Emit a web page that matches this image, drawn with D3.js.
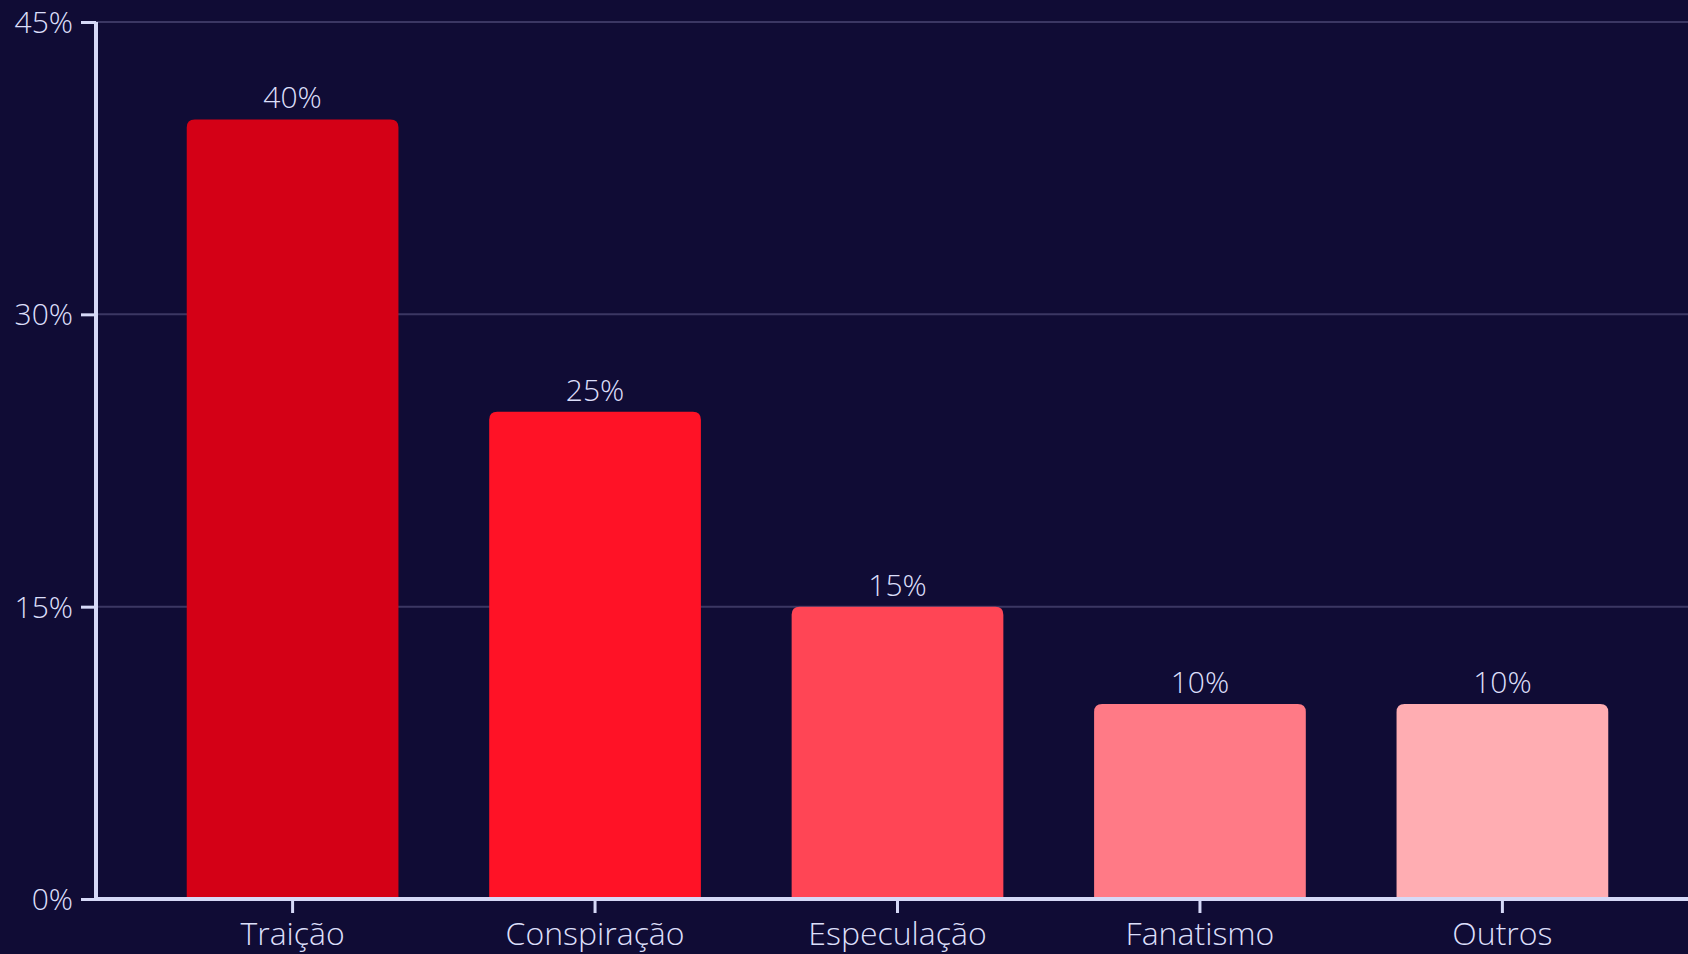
<!DOCTYPE html>
<html lang="pt">
<head>
<meta charset="UTF-8">
<title>Motivos</title>
<style>
    html, body { margin: 0; padding: 0; background: #100c35; overflow: hidden; }
    #chart text { font-family: "Open Sans", "Noto Sans", sans-serif; font-weight: 300; fill: #dcdffa; }
</style>
</head>
<body>
<svg id="chart"></svg>
<script src="https://d3js.org/d3.v7.min.js"></script>
<script>
    const categories = ["Traição", "Conspiração", "Especulação", "Fanatismo", "Outros"];
    const values = [40, 25, 15, 10, 10];
    const colors = ["#d40016", "#ff1226", "#ff4555", "#ff7a86", "#ffadb2"];
    const yTicks = [0, 15, 30, 45];

    const width = 1688;
    const height = 954;
    const plotLeft = 96, plotTop = 22, plotBottom = 899, plotRight = 1699;

    const svg = d3.select("#chart")
        .attr("width", width)
        .attr("height", height);

    const x = d3.scaleBand()
        .domain(categories)
        .range([plotLeft, plotRight])
        .paddingInner(0.3)
        .paddingOuter(0.3);

    const y = d3.scaleLinear()
        .domain([0, 45])
        .range([plotBottom, plotTop]);

    // grid
    svg.append("g")
        .selectAll("line")
        .data(yTicks.filter(d => d > 0))
        .join("line")
        .attr("x1", plotLeft)
        .attr("x2", width)
        .attr("y1", d => y(d))
        .attr("y2", d => y(d))
        .attr("stroke", "#3b3763")
        .attr("stroke-width", 2);

    // bars with rounded tops
    const r = 8;
    svg.append("g")
        .selectAll("path")
        .data(values)
        .join("path")
        .attr("fill", (d, i) => colors[i])
        .attr("d", (d, i) => {
            const x0 = x(categories[i]), x1 = x0 + x.bandwidth();
            const y0 = y(d), y1 = y(0);
            return `M${x0},${y1}V${y0 + r}Q${x0},${y0} ${x0 + r},${y0}H${x1 - r}Q${x1},${y0} ${x1},${y0 + r}V${y1}Z`;
        });

    // value labels
    svg.append("g")
        .selectAll("text")
        .data(values)
        .join("text")
        .attr("x", (d, i) => x(categories[i]) + x.bandwidth() / 2)
        .attr("y", d => y(d) - 11)
        .attr("text-anchor", "middle")
        .attr("font-size", 30)
        .text(d => d + "%");

    // y axis
    const yAxis = svg.append("g")
        .attr("transform", `translate(${plotLeft},0)`)
        .call(d3.axisLeft(y).tickValues(yTicks).tickFormat(d => d + "%").tickSize(15).tickPadding(8));
    yAxis.select(".domain").attr("d", `M0,${plotTop}V${plotBottom}`);

    // x axis
    const xAxis = svg.append("g")
        .attr("transform", `translate(0,${plotBottom})`)
        .call(d3.axisBottom(x).tickSize(14).tickPadding(9));
    xAxis.select(".domain").attr("d", `M${plotLeft},0H${width}`);

    svg.selectAll(".domain")
        .attr("stroke", "#d6d9f7")
        .attr("stroke-width", 4);
    svg.selectAll(".tick line")
        .attr("stroke", "#d6d9f7")
        .attr("stroke-width", 3);
    svg.selectAll(".tick text")
        .attr("fill", "#dcdffa");
    yAxis.selectAll(".tick text").attr("font-size", 30).attr("dy", "0.35em");
    xAxis.selectAll(".tick text").attr("font-size", 32);
</script>
</body>
</html>
